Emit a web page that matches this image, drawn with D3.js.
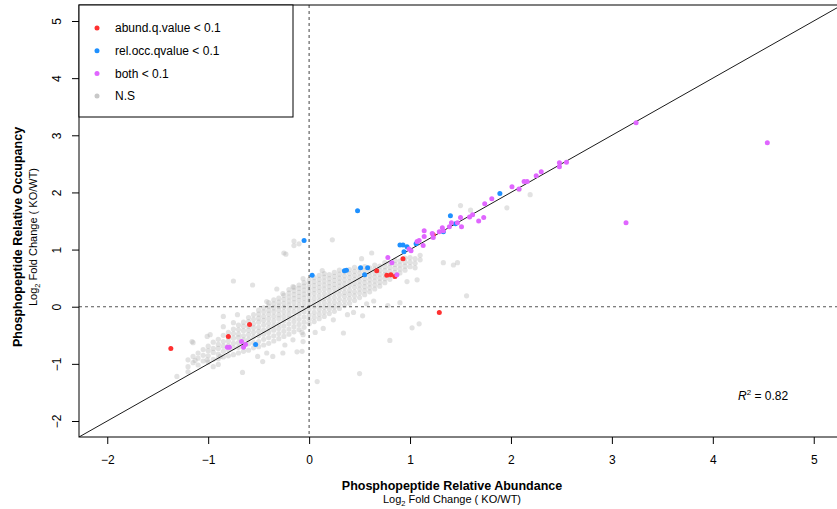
<!DOCTYPE html>
<html>
<head>
<meta charset="utf-8">
<script src="https://cdn.jsdelivr.net/npm/d3@7"></script>
<style>
  body { margin: 0; background: #fff; }
  text { font-family: "Liberation Sans", Arial, sans-serif; fill: #000; }
</style>
</head>
<body>
<div id="chart"></div>
<script>
// Werte aus der Abbildung geschätzt: [log2 FC Abundanz, log2 FC Occupancy]
const abundQ = [[-1.37,-0.73],[-0.80,-0.52],[-0.59,-0.31],[1.29,-0.10],[0.93,0.84],[0.77,0.55],
  [0.81,0.56],[0.85,0.53],[1.23,1.26],[0.67,0.63]];

const relOccQ = [[-0.05,1.16],[0.48,1.68],[0.03,0.55],[0.35,0.63],[0.37,0.64],[0.51,0.68],[0.58,0.68],
  [0.55,0.56],[0.90,1.08],[0.93,1.08],[0.97,1.05],[0.94,0.96],[1.06,1.10],[1.40,1.59],[1.45,1.45],
  [1.33,1.31],[1.89,1.98],[-0.53,-0.66]];

const bothQ = [[3.24,3.22],[4.54,2.87],[3.14,1.47],[2.48,2.52],[2.48,2.45],[2.55,2.53],[2.30,2.36],
  [2.25,2.29],[2.01,2.10],[2.13,2.19],[2.16,2.19],[2.08,2.06],[1.81,1.89],[1.74,1.80],[1.62,1.61],
  [1.59,1.57],[1.73,1.56],[1.68,1.50],[1.51,1.40],[1.50,1.56],[1.47,1.47],[1.41,1.47],[1.39,1.40],
  [1.32,1.38],[1.33,1.33],[1.29,1.31],[1.22,1.28],[1.14,1.33],[1.14,1.23],[1.09,1.16],[1.07,1.14],
  [1.13,1.07],[1.01,0.98],[0.99,1.01],[0.78,0.86],[0.82,0.77],[0.87,0.56],[1.23,1.21],
  [-0.79,-0.71],[-0.81,-0.71],[-0.67,-0.61],[-0.65,-0.71],[-0.63,-0.66]];

// nicht signifikant: dichte Wolke, spaltenweise abgelesen [x, [y...]]
const nsCloud = [
  [-1.20, [-1.05,-0.93]],
  [-1.15, [-0.98,-0.87]],
  [-1.10, [-1.02,-0.90,-0.81]],
  [-1.05, [-0.95,-0.85,-0.75]],
  [-1.00, [-0.97,-0.86,-0.77,-0.69]],
  [-0.95, [-0.92,-0.80,-0.73,-0.62]],
  [-0.90, [-0.91,-0.83,-0.73,-0.66,-0.57]],
  [-0.85, [-0.88,-0.78,-0.69,-0.61,-0.50]],
  [-0.80, [-0.86,-0.75,-0.68,-0.60,-0.53,-0.45]],
  [-0.75, [-0.84,-0.72,-0.64,-0.55,-0.47,-0.39]],
  [-0.70, [-0.81,-0.71,-0.63,-0.54,-0.48,-0.40,-0.32]],
  [-0.65, [-0.78,-0.68,-0.58,-0.51,-0.42,-0.34,-0.27]],
  [-0.60, [-0.76,-0.65,-0.57,-0.49,-0.41,-0.34,-0.26,-0.19]],
  [-0.55, [-0.72,-0.63,-0.53,-0.45,-0.37,-0.30,-0.22,-0.14]],
  [-0.50, [-0.70,-0.61,-0.51,-0.43,-0.36,-0.27,-0.20,-0.13,-0.06]],
  [-0.45, [-0.67,-0.57,-0.48,-0.41,-0.32,-0.24,-0.17,-0.09,-0.02]],
  [-0.40, [-0.64,-0.54,-0.45,-0.37,-0.29,-0.21,-0.13,-0.06,0.01,0.07]],
  [-0.35, [-0.60,-0.51,-0.41,-0.33,-0.25,-0.17,-0.09,-0.02,0.05,0.12]],
  [-0.30, [-0.56,-0.47,-0.38,-0.30,-0.21,-0.14,-0.06,0.01,0.08,0.15]],
  [-0.25, [-0.52,-0.43,-0.34,-0.25,-0.17,-0.09,-0.01,0.06,0.13,0.20]],
  [-0.20, [-0.48,-0.39,-0.30,-0.21,-0.13,-0.05,0.03,0.10,0.17,0.24,0.30]],
  [-0.15, [-0.44,-0.35,-0.26,-0.18,-0.09,-0.01,0.07,0.14,0.21,0.28,0.34]],
  [-0.10, [-0.40,-0.31,-0.22,-0.13,-0.05,0.03,0.11,0.18,0.25,0.32,0.38]],
  [-0.05, [-0.36,-0.27,-0.18,-0.09,-0.01,0.07,0.15,0.22,0.29,0.36,0.42]],
  [0.00, [-0.30,-0.22,-0.14,-0.05,0.03,0.11,0.19,0.26,0.33,0.40,0.47]],
  [0.05, [-0.26,-0.18,-0.10,-0.01,0.07,0.15,0.23,0.30,0.37,0.44,0.51]],
  [0.10, [-0.21,-0.13,-0.05,0.03,0.11,0.19,0.27,0.34,0.41,0.48,0.55]],
  [0.15, [-0.17,-0.09,-0.01,0.07,0.15,0.23,0.31,0.38,0.45,0.52,0.58]],
  [0.20, [-0.12,-0.04,0.04,0.12,0.20,0.28,0.35,0.42,0.49,0.56]],
  [0.25, [-0.08,0.00,0.08,0.16,0.24,0.32,0.39,0.46,0.53,0.60]],
  [0.30, [-0.03,0.05,0.13,0.21,0.29,0.36,0.43,0.50,0.57,0.64]],
  [0.35, [0.02,0.10,0.18,0.25,0.33,0.40,0.47,0.54,0.61]],
  [0.40, [0.06,0.14,0.22,0.29,0.37,0.44,0.51,0.58,0.65]],
  [0.45, [0.11,0.19,0.26,0.34,0.41,0.48,0.55,0.62,0.69]],
  [0.50, [0.16,0.24,0.31,0.38,0.45,0.52,0.59,0.66]],
  [0.55, [0.21,0.28,0.35,0.42,0.49,0.56,0.63,0.70]],
  [0.60, [0.26,0.33,0.40,0.47,0.54,0.61,0.68]],
  [0.65, [0.31,0.38,0.45,0.52,0.59,0.66,0.73]],
  [0.70, [0.36,0.43,0.50,0.57,0.64,0.71]],
  [0.75, [0.42,0.49,0.56,0.63,0.70,0.77]],
  [0.80, [0.48,0.55,0.62,0.69,0.76]],
  [0.85, [0.53,0.60,0.67,0.74,0.81]],
  [0.90, [0.59,0.66,0.73,0.80]],
  [0.95, [0.64,0.71,0.78,0.85]],
  [1.00, [0.70,0.78,0.86]],
  [1.05, [0.76,0.84]],
  [1.10, [0.82,0.90]]
];

// vereinzelte graue Punkte
const nsScatter = [[-0.15,1.15],[-0.10,1.10],[-0.15,1.07],[-0.25,0.94],[-0.23,0.92],[-0.75,0.45],
  [-0.56,0.38],[-0.32,0.31],[-0.16,0.35],[-0.06,0.49],[-0.26,0.23],[-0.42,0.09],
  [1.02,-0.37],[1.09,-0.30],[0.80,-0.59],[0.50,-1.17],[0.08,-1.31],[0.34,-0.46],[0.53,-0.16],
  [0.64,0.10],[0.57,0.05],[0.44,-0.10],[0.38,-0.14],[0.24,-0.23],[0.14,-0.38],[0.06,-0.45],
  [-0.07,-0.45],[-0.07,-0.78],[-0.06,-0.61],[-0.98,-0.49],[-1.01,-0.52],[-1.16,-0.61],[-1.15,-0.63],
  [-1.13,-0.94],[-1.20,-1.14],[-1.31,-1.22],[-0.66,-1.15],[-0.95,-1.05],[-0.90,-1.01],[-1.01,-0.93],
  [-0.88,-0.87],[-0.12,-0.79],[-0.26,-0.81],[-0.36,-0.87],[-0.46,-0.96],[-0.42,-0.81],[-0.51,-0.87],
  [-0.24,-0.67],[-0.16,-0.58],[-0.06,-0.49],[-0.85,-0.35],[-0.75,-0.28],[-0.85,-0.17],[-0.71,-0.14],
  [0.23,1.17],[1.43,0.73],[1.47,0.77],[1.56,0.19],[1.05,0.68],[0.97,0.44],[1.33,0.77],[0.62,0.94],
  [0.52,0.84],[0.13,0.63],[0.78,0.02],[0.90,0.07],[1.07,0.47],[1.50,1.77],[2.19,1.96],[1.96,1.73],
  [2.08,2.05],[1.60,1.69]];

const ticks = [-2, -1, 0, 1, 2, 3, 4, 5];
const legendLabels = ["abund.q.value < 0.1", "rel.occ.qvalue < 0.1", "both < 0.1", "N.S"];
const legendColors = ["#ff3030", "#1e90ff", "#e066ff", "#c8c8c8"];
const rSquared = "0.82";

// Flache Liste der grauen Punkte
const nsPoints = nsCloud.flatMap(c => c[1].map(v => [c[0], v])).concat(nsScatter);

const W = 837, H = 509;
const plot = { left: 79, right: 842, top: 5, bottom: 437 };

const svg = d3.select("#chart").append("svg")
  .attr("width", W)
  .attr("height", H);

const x = d3.scaleLinear().domain([-2.28, 5.28]).range([plot.left, plot.right]);
const y = d3.scaleLinear().domain([-2.28, 5.28]).range([plot.bottom, plot.top]);

svg.append("clipPath").attr("id", "clip")
  .append("rect")
  .attr("x", plot.left).attr("y", plot.top)
  .attr("width", plot.right - plot.left).attr("height", plot.bottom - plot.top);

const inner = svg.append("g").attr("clip-path", "url(#clip)");

// graue Punkte
inner.selectAll(".ns")
  .data(nsPoints)
  .enter().append("circle")
  .attr("cx", d => x(d[0]))
  .attr("cy", d => y(d[1]))
  .attr("r", 2.6)
  .style("fill", "#b4b4b4")
  .style("fill-opacity", 0.38);

// gestrichelte Nulllinien
inner.append("line")
  .attr("x1", x(0)).attr("x2", x(0))
  .attr("y1", plot.top).attr("y2", plot.bottom)
  .style("stroke", "#555").style("stroke-width", 1.1).style("stroke-dasharray", "3,3");
inner.append("line")
  .attr("x1", plot.left).attr("x2", plot.right)
  .attr("y1", y(0)).attr("y2", y(0))
  .style("stroke", "#555").style("stroke-width", 1.1).style("stroke-dasharray", "3,3");

// Diagonale y = x
inner.append("line")
  .attr("x1", x(-2.28)).attr("y1", y(-2.28))
  .attr("x2", x(5.28)).attr("y2", y(5.28))
  .style("stroke", "#000").style("stroke-width", 0.9);

// farbige Punkte
const groups = [[abundQ, legendColors[0]], [relOccQ, legendColors[1]], [bothQ, legendColors[2]]];
groups.forEach(function (g) {
  inner.append("g").selectAll("circle")
    .data(g[0])
    .enter().append("circle")
    .attr("cx", d => x(d[0]))
    .attr("cy", d => y(d[1]))
    .attr("r", 2.5)
    .style("fill", g[1]);
});

// Achsen
const xAxis = d3.axisBottom(x).tickValues(ticks).tickSize(7).tickPadding(11);
const yAxis = d3.axisLeft(y).tickValues(ticks).tickSize(7).tickPadding(0);

svg.append("g")
  .attr("transform", "translate(0," + plot.bottom + ")")
  .call(xAxis)
  .call(g => g.select(".domain").remove())
  .selectAll("text")
  .style("font-size", "12px")
  .style("font-family", "Liberation Sans, Arial, sans-serif");

svg.append("g")
  .attr("transform", "translate(" + plot.left + ",0)")
  .call(yAxis)
  .call(g => g.select(".domain").remove())
  .selectAll("text")
  .attr("x", null).attr("dy", null)
  .attr("transform", "translate(-18,0) rotate(-90)")
  .attr("text-anchor", "middle")
  .style("font-size", "12px")
  .style("font-family", "Liberation Sans, Arial, sans-serif");

svg.selectAll(".tick line").style("stroke", "#000");

// Rahmen
svg.append("rect")
  .attr("x", plot.left).attr("y", plot.top)
  .attr("width", plot.right - plot.left).attr("height", plot.bottom - plot.top)
  .style("fill", "none").style("stroke", "#000").style("stroke-width", 1);

// Legende
const legend = svg.append("g");
legend.append("rect")
  .attr("x", plot.left).attr("y", plot.top)
  .attr("width", 214).attr("height", 112)
  .style("fill", "#fff").style("stroke", "#000").style("stroke-width", 1);
legendLabels.forEach(function (lab, i) {
  legend.append("circle")
    .attr("cx", 97).attr("cy", 28 + i * 22.7)
    .attr("r", 2.5).style("fill", legendColors[i]);
  legend.append("text")
    .attr("x", 115).attr("y", 28 + i * 22.7)
    .attr("dy", "0.35em")
    .style("font-size", "12px")
    .text(lab);
});

// R^2
const r2 = svg.append("text")
  .attr("x", 738).attr("y", 400)
  .style("font-size", "12px");
r2.append("tspan").style("font-style", "italic").text("R");
r2.append("tspan").attr("dy", -5).style("font-size", "8px").text("2");
r2.append("tspan").attr("dy", 5).text(" = " + rSquared);

// Achsentitel
svg.append("text")
  .attr("x", 452).attr("y", 490)
  .attr("text-anchor", "middle")
  .style("font-size", "12.5px").style("font-weight", "bold")
  .text("Phosphopeptide Relative Abundance");

function subTitle(sel) {
  sel.append("tspan").text("Log");
  sel.append("tspan").attr("dy", 3).style("font-size", "7.5px").text("2");
  sel.append("tspan").attr("dy", -3).text(" Fold Change ( KO/WT)");
}

svg.append("text")
  .attr("x", 452).attr("y", 503)
  .attr("text-anchor", "middle")
  .style("font-size", "11px")
  .call(subTitle);

svg.append("text")
  .attr("transform", "translate(22,237) rotate(-90)")
  .attr("text-anchor", "middle")
  .style("font-size", "12.5px").style("font-weight", "bold")
  .text("Phosphopeptide Relative Occupancy");

svg.append("text")
  .attr("transform", "translate(37,237) rotate(-90)")
  .attr("text-anchor", "middle")
  .style("font-size", "11px")
  .call(subTitle);
</script>
</body>
</html>
